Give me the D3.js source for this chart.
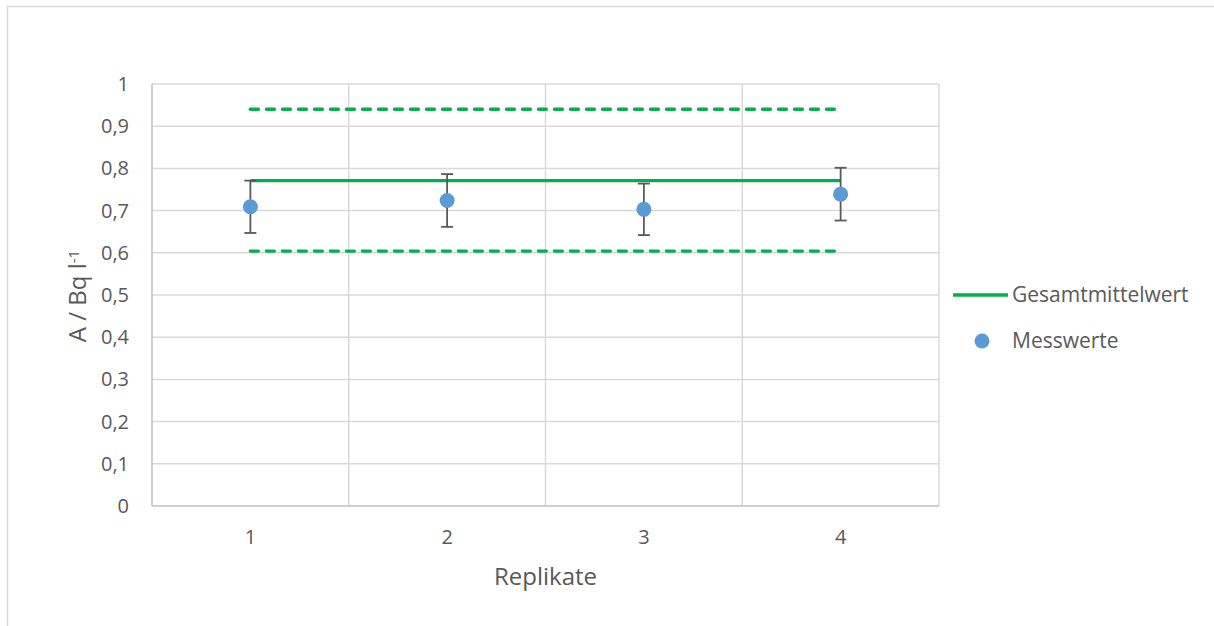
<!DOCTYPE html>
<html>
<head>
<meta charset="utf-8">
<script src="https://cdn.jsdelivr.net/npm/d3@7"></script>
<style>
  html, body { margin: 0; padding: 0; background: #ffffff; }
  svg { display: block; }
  text { font-family: "Open Sans", "Noto Sans", sans-serif; fill: #595959; }
</style>
</head>
<body>
<div id="chart"></div>
<script>
// Replicate measurements with their uncertainty
const replicates = [1, 2, 3, 4];
const measured = [0.709, 0.724, 0.703, 0.739];
const uncertainty = [0.062, 0.0625, 0.061, 0.0625];

// Grand mean and its lower/upper limits
const grandMean = 0.771;
const upperLimit = 0.940;
const lowerLimit = 0.604;

const yTicks = [0, 0.1, 0.2, 0.3, 0.4, 0.5, 0.6, 0.7, 0.8, 0.9, 1];

const width = 1214, height = 626;
const plot = { left: 152, right: 939, top: 84, bottom: 506 };

const green = "#00B050";
const blue = "#5B9BD5";
const grid = "#d9d9d9";

const svg = d3.select("#chart").append("svg")
  .attr("width", width).attr("height", height);

// Chart frame
svg.append("rect")
  .attr("x", 7.5).attr("y", 6.5)
  .attr("width", width + 10).attr("height", height + 10)
  .attr("fill", "none").attr("stroke", grid).attr("stroke-width", 1.5);

const x = d3.scaleBand().domain(replicates).range([plot.left, plot.right]);
const cx = d => x(d) + x.bandwidth() / 2;
const y = d3.scaleLinear().domain([0, 1]).range([plot.bottom, plot.top]);

const fmt = v => d3.format(".1~f")(v).replace(".", ",");

// Horizontal gridlines
svg.append("g")
  .selectAll("line").data(yTicks.slice(1)).join("line")
  .attr("x1", plot.left).attr("x2", plot.right)
  .attr("y1", d => y(d)).attr("y2", d => y(d))
  .attr("stroke", grid).attr("stroke-width", 1.5);

// Vertical gridlines between categories
svg.append("g")
  .selectAll("line").data(replicates).join("line")
  .attr("x1", d => x(d) + x.bandwidth()).attr("x2", d => x(d) + x.bandwidth())
  .attr("y1", plot.top).attr("y2", plot.bottom)
  .attr("stroke", grid).attr("stroke-width", 1.5);

// Axis lines
svg.append("line")
  .attr("x1", plot.left).attr("x2", plot.left)
  .attr("y1", plot.top).attr("y2", plot.bottom)
  .attr("stroke", "#bfbfbf").attr("stroke-width", 1.5);
svg.append("line")
  .attr("x1", plot.left).attr("x2", plot.right)
  .attr("y1", plot.bottom).attr("y2", plot.bottom)
  .attr("stroke", "#bfbfbf").attr("stroke-width", 1.5);

// Y tick labels
svg.append("g")
  .selectAll("text").data(yTicks).join("text")
  .attr("x", 129).attr("y", d => y(d))
  .attr("dy", "0.35em")
  .attr("text-anchor", "end")
  .style("font-size", "20px")
  .text(fmt);

// X tick labels
svg.append("g")
  .selectAll("text").data(replicates).join("text")
  .attr("x", cx).attr("y", 537)
  .attr("dy", "0.35em")
  .attr("text-anchor", "middle")
  .style("font-size", "20px")
  .text(d => d);

// Axis titles
svg.append("text")
  .attr("x", x.range()[0] + (plot.right - plot.left) / 2)
  .attr("y", 585)
  .attr("text-anchor", "middle")
  .style("font-size", "24px")
  .text("Replikate");

const yTitle = svg.append("text")
  .attr("transform", `translate(86, ${296}) rotate(-90)`)
  .attr("text-anchor", "middle")
  .style("font-size", "24px");
yTitle.append("tspan").text("A / Bq l");
yTitle.append("tspan").attr("dy", "-0.45em").style("font-size", "15px").text("-1");

// Limit lines (dashed) and grand mean (solid)
const xFirst = cx(replicates[0]);
const xLast = cx(replicates[replicates.length - 1]);

const line = d3.line().x(d => d[0]).y(d => y(d[1]));

[upperLimit, lowerLimit].forEach(v => {
  svg.append("path")
    .attr("d", line([[xFirst, v], [xLast, v]]))
    .attr("fill", "none")
    .attr("stroke", green).attr("stroke-width", 3.4)
    .attr("stroke-dasharray", "8,8")
    .attr("stroke-linecap", "round");
});

svg.append("path")
  .attr("d", line([[xFirst, grandMean], [xLast, grandMean]]))
  .attr("fill", "none")
  .attr("stroke", green).attr("stroke-width", 3.4);

// Error bars
const eb = svg.append("g").attr("stroke", "#595959").attr("stroke-width", 1.8);
replicates.forEach((r, i) => {
  const lo = measured[i] - uncertainty[i];
  const hi = measured[i] + uncertainty[i];
  eb.append("line").attr("x1", cx(r)).attr("x2", cx(r)).attr("y1", y(lo)).attr("y2", y(hi));
  eb.append("line").attr("x1", cx(r) - 6).attr("x2", cx(r) + 6).attr("y1", y(lo)).attr("y2", y(lo));
  eb.append("line").attr("x1", cx(r) - 6).attr("x2", cx(r) + 6).attr("y1", y(hi)).attr("y2", y(hi));
});

// Measured values
svg.append("g")
  .selectAll("circle").data(replicates).join("circle")
  .attr("cx", cx).attr("cy", (d, i) => y(measured[i]))
  .attr("r", 7.5)
  .attr("fill", blue);

// Legend
const legend = svg.append("g");
legend.append("line")
  .attr("x1", 953).attr("x2", 1008).attr("y1", 295).attr("y2", 295)
  .attr("stroke", green).attr("stroke-width", 3.4);
legend.append("text")
  .attr("x", 1012).attr("y", 295).attr("dy", "0.35em")
  .style("font-size", "21px")
  .text("Gesamtmittelwert");
legend.append("circle")
  .attr("cx", 982).attr("cy", 341).attr("r", 7.5).attr("fill", blue);
legend.append("text")
  .attr("x", 1012).attr("y", 341).attr("dy", "0.35em")
  .style("font-size", "21px")
  .text("Messwerte");
</script>
</body>
</html>
